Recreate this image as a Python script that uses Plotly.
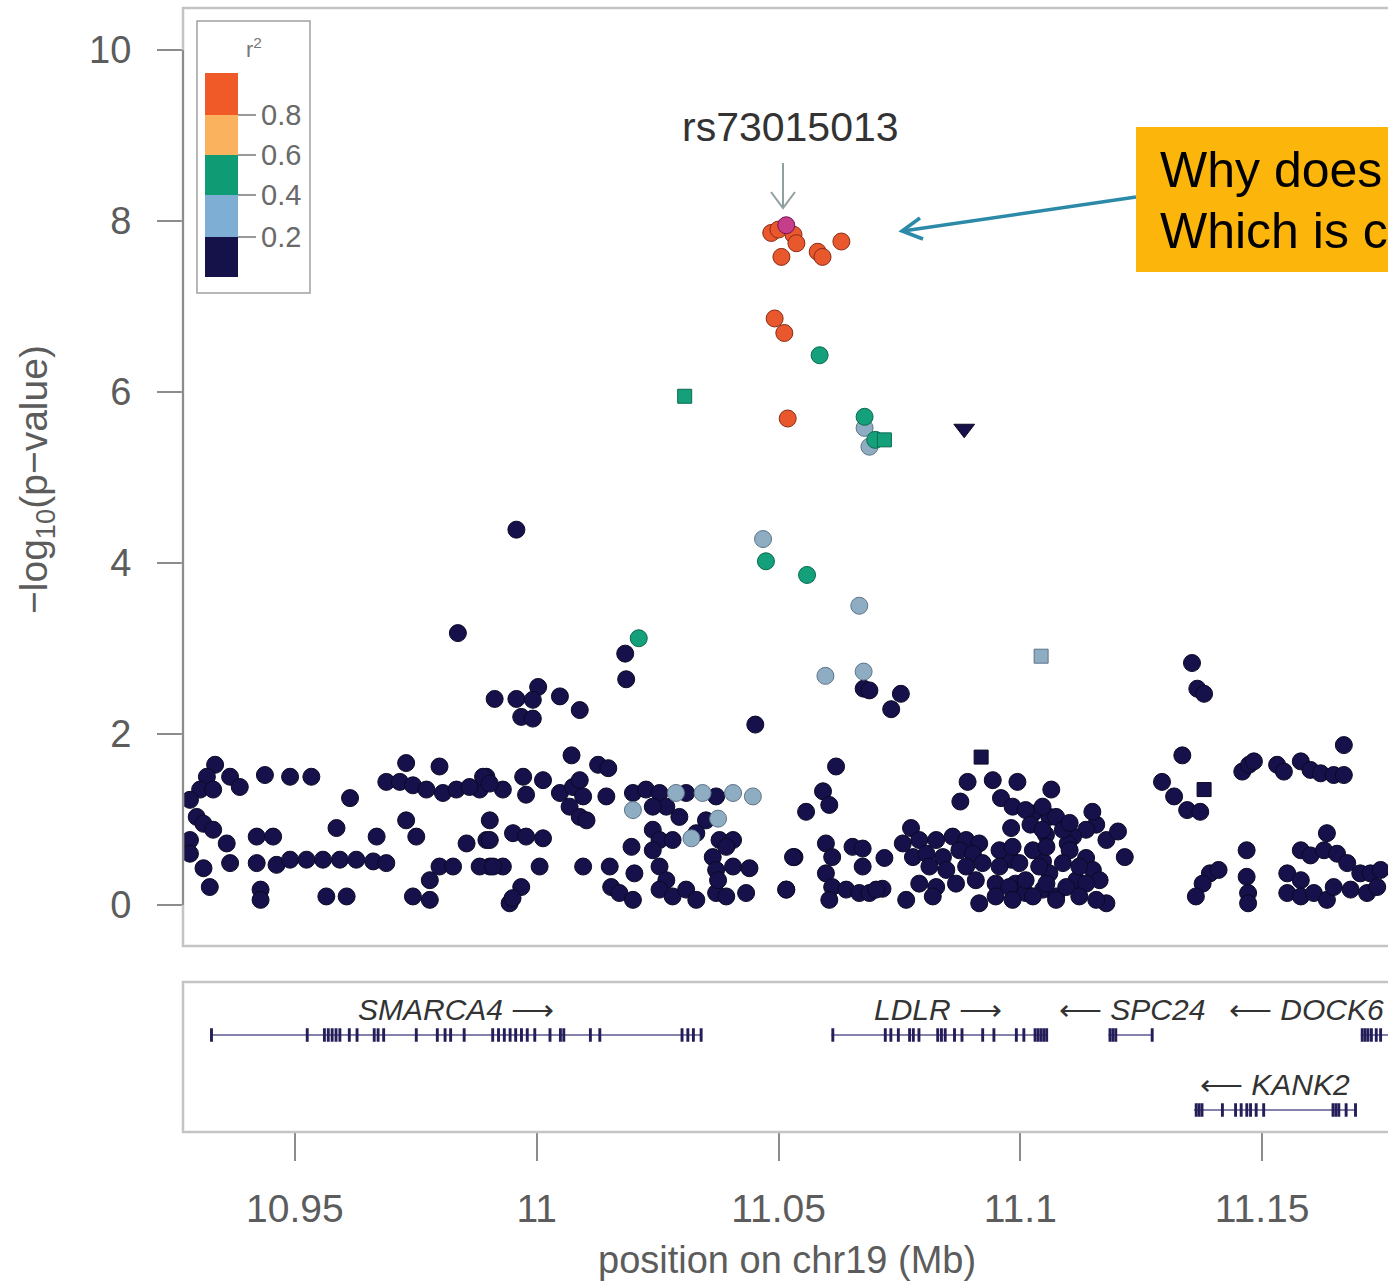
import plotly.graph_objects as go

# ---------------- data ----------------
# r2 < 0.2 (navy circles)
navy_pos = [10.9958,10.9837,11.0183,11.0185,10.9913,10.9958,11.0003,10.9992,10.9968,10.9992,11.0048,11.0089,11.0676,11.0688,11.0753,11.0733,11.0452,
    11.1355,11.1366,11.1380,11.1335,11.1293,11.1318,11.1345,11.1372,11.1459,11.1473,11.1483,11.1531,11.1545,11.1580,11.1600,11.1621,11.1648,11.1669,11.1669,
    11.1026,11.1060,11.0981,11.1053,11.1157,11.1136,11.1109,11.1098,11.1178,11.1202,11.1216,11.0981,11.1047,11.1060,11.1136,11.1150,11.1116,11.1164,11.0990,
    11.1011,11.1047,11.1074,11.1392,11.1410,11.1377,11.1363,11.1178,11.1468,11.1468,11.1471,11.1471,11.1634,11.1580,11.1600,11.1628,11.1655,11.1676,11.1703,
    11.1724,11.1745,11.1552,11.1580,11.1552,11.1580,11.1607,11.1634,11.1648,11.1683,11.1717,11.1738,
    11.0619,11.0592,11.0605,11.0557,11.0533,11.0516,11.0598,11.0611,11.0598,11.0611,11.0605,11.0653,11.0674,11.0674,11.0640,11.0667,11.0688,11.0719,11.0715,
    11.0891,11.0943,11.0994,11.1064,11.0876,11.0960,11.0984,11.1011,11.1046,11.1074,11.1149,11.1021,11.1046,11.1088,11.1102,11.0774,11.0791,11.0826,11.0860,
    11.0888,11.0915,11.0778,11.0806,11.0840,11.0874,11.0902,11.0957,11.0984,11.1026,11.1054,11.1102,11.0812,11.0847,11.0888,11.0922,11.0957,11.0998,11.1039,
    11.1088,11.1122,11.0791,11.0826,11.0867,11.0908,11.0949,11.0977,11.1011,11.1054,11.1095,11.1136,11.0764,11.0819,11.0915,11.0949,11.0984,11.1026,11.1074,
    11.1122,11.1157,11.0757,11.0702,
    11.0072,11.0127,11.0148,10.9896,10.9882,10.9972,11.0013,10.9930,10.9978,11.0048,11.0075,11.0089,11.0096,11.0068,11.0089,11.0103,11.0144,11.0199,11.0226,
    11.0254,11.0268,11.0240,11.0309,11.0371,11.0295,11.0350,11.0330,11.0240,11.0254,11.0281,11.0240,11.0378,11.0406,11.0392,11.0196,10.9903,10.9896,10.9951,
    10.9978,11.0013,10.9903,10.9930,11.0006,11.0096,11.0151,11.0202,11.0254,11.0268,11.0364,11.0371,11.0406,11.0440,10.9968,10.9944,11.0154,11.0171,11.0199,
    11.0254,11.0281,11.0309,11.0330,11.0371,11.0392,11.0433,11.0375,11.0530,11.0516,
    10.9335,10.9318,10.9304,10.9331,10.9283,10.9366,10.9386,10.9438,10.9490,10.9534,10.9614,10.9730,10.9799,10.9689,10.9717,10.9744,10.9772,10.9806,10.9834,
    10.9861,10.9889,10.9903,10.9297,10.9311,10.9331,10.9359,10.9283,10.9283,10.9366,10.9311,10.9324,10.9421,10.9455,10.9421,10.9462,10.9490,10.9524,10.9558,
    10.9593,10.9627,10.9662,10.9689,10.9429,10.9429,10.9586,10.9669,10.9565,10.9607,10.9730,10.9751,10.9799,10.9827,10.9779,10.9744,10.9779,10.9855,10.9903,
    10.9882,10.9910,10.9950]
navy_logp = [4.39,3.18,2.94,2.64,2.41,2.41,2.55,2.40,2.20,2.18,2.44,2.28,2.53,2.51,2.47,2.29,2.11,
    2.83,2.53,2.47,1.75,1.44,1.27,1.11,1.09,1.56,1.64,1.68,1.64,1.56,1.68,1.58,1.54,1.52,1.52,1.87,
    1.07,1.03,0.90,0.82,0.94,0.88,0.80,0.72,0.76,0.86,0.56,0.53,0.51,0.37,0.55,0.41,0.29,0.29,0.25,
    0.14,0.18,0.10,0.37,0.41,0.25,0.10,0.02,0.64,0.33,0.14,0.02,0.84,0.64,0.58,0.64,0.60,0.49,0.37,
    0.37,0.41,0.37,0.29,0.14,0.10,0.14,0.06,0.21,0.18,0.14,0.21,
    1.62,1.33,1.17,1.09,0.56,0.18,0.72,0.56,0.37,0.21,0.06,0.68,0.66,0.45,0.18,0.14,0.14,0.55,0.19,
    1.44,1.46,1.44,1.35,1.21,1.25,1.15,1.11,1.15,1.03,1.09,0.94,0.88,0.88,0.96,0.90,0.76,0.76,0.80,
    0.76,0.72,0.56,0.60,0.56,0.64,0.60,0.64,0.68,0.64,0.68,0.64,0.45,0.41,0.45,0.49,0.45,0.49,0.45,
    0.49,0.45,0.25,0.21,0.25,0.29,0.25,0.21,0.29,0.25,0.21,0.25,0.06,0.10,0.02,0.10,0.06,0.10,0.06,
    0.10,0.06,0.72,0.18,
    1.75,1.64,1.60,1.50,1.35,1.50,1.46,1.35,1.29,1.31,1.38,1.46,1.27,1.15,1.03,0.99,1.27,1.31,1.35,
    1.31,1.15,1.15,1.31,1.27,1.03,0.99,0.84,0.88,0.76,0.76,0.64,0.76,0.76,0.68,0.68,0.99,0.76,0.84,
    0.80,0.78,0.45,0.45,0.45,0.45,0.45,0.37,0.45,0.29,0.56,0.41,0.45,0.43,0.21,0.02,0.21,0.14,0.06,
    0.18,0.10,0.18,0.06,0.14,0.10,0.14,0.29,0.56,0.18,
    1.64,1.50,1.35,1.35,1.23,1.50,1.38,1.52,1.50,1.50,1.25,1.66,1.62,1.44,1.44,1.40,1.35,1.31,1.35,
    1.38,1.50,1.42,1.03,0.95,0.88,0.72,0.76,0.60,0.49,0.43,0.21,0.80,0.80,0.49,0.47,0.53,0.53,0.53,
    0.53,0.53,0.51,0.49,0.18,0.06,0.90,0.80,0.10,0.10,0.99,0.80,0.45,0.45,0.29,0.10,0.06,0.72,0.76,
    0.45,0.45,0.08]
navy_sq_pos = [11.0919, 11.1380]
navy_sq_logp = [1.73, 1.35]
navy_tri_pos = [11.0884]
navy_tri_logp = [5.57]

# 0.2 <= r2 < 0.4 (light blue)
blue_pos = [11.0199,11.0288,11.0343,11.0406,11.0447,11.0375,11.0320,11.0468,11.0667,11.0597,11.0676,11.0678,11.0688]
blue_logp = [1.11,1.31,1.31,1.31,1.27,1.01,0.78,4.28,3.50,2.68,2.73,5.58,5.36]
blue_sq_pos = [11.1043]
blue_sq_logp = [2.91]

# 0.4 <= r2 < 0.6 (green)
green_pos = [11.0585,11.0678,11.0700,11.0474,11.0559,11.0211]
green_logp = [6.43,5.71,5.44,4.02,3.86,3.12]
green_sq_pos = [11.0306,11.0719]
green_sq_logp = [5.95,5.44]

# r2 >= 0.8 (red)
red_pos = [11.0485,11.0500,11.0531,11.0537,11.0506,11.0581,11.0591,11.0630,11.0492,11.0512,11.0519]
red_logp = [7.86,7.90,7.84,7.74,7.58,7.64,7.58,7.76,6.86,6.69,5.69]

# index SNP
lead_name = "rs73015013"
lead_pos = [11.0516]
lead_logp = [7.95]

# legend bins
r2_breaks = ["0.8", "0.6", "0.4", "0.2"]
r2_colors = ["#ef5a28", "#fbb25f", "#0f9b74", "#7eaed3", "#15124a"]

# genes
gene_names = ["SMARCA4", "LDLR", "SPC24", "DOCK6", "KANK2"]
gene_strand = ["+", "+", "-", "-", "-"]
gene_start = [10.93245, 11.06093, 11.11824, 11.17040, 11.13590]
gene_end = [11.03400, 11.10548, 11.12737, 11.20000, 11.16920]
gene_row = [1, 1, 1, 1, 0]
gene_exons = [
    [10.93245,10.95225,10.95580,10.95660,10.95740,10.95820,10.95900,10.96095,10.96255,10.96610,10.96690,10.96805,
     10.97480,10.97915,10.98075,10.98190,10.98470,10.99060,10.99180,10.99300,10.99420,10.99535,10.99655,10.99775,
     10.99930,11.00245,11.00460,11.00530,11.01080,11.01275,11.02975,11.03095,11.03210,11.03370],
    [11.06093,11.07178,11.07293,11.07448,11.07680,11.07758,11.07874,11.08262,11.08339,11.08417,11.08609,11.08764,
     11.09192,11.09424,11.09888,11.10043,11.10275,11.10335,11.10395,11.10455,11.10515],
    [11.11824,11.11884,11.11944,11.12697],
    [11.17040,11.17100,11.17160,11.17230,11.17330,11.17420],
    [11.13607,11.13667,11.13727,11.14149,11.14421,11.14537,11.14653,11.14731,11.14847,11.15002,
     11.16436,11.16496,11.16556,11.16707,11.16901],
]
gene_label_x = [10.98326, 11.08306, 11.12314, 11.17570, 11.15269]

x_ticks = [10.95, 11.0, 11.05, 11.1, 11.15]
x_ticklabels = ["10.95", "11", "11.05", "11.1", "11.15"]
y_ticks = [0, 2, 4, 6, 8, 10]

# ---------------- figure ----------------
W, H = 1388, 1285
def px(x): return x / W
def py(y): return 1 - y / H

FONT = "Liberation Sans, Arial, Helvetica, sans-serif"
TICKC = "#5c5c5c"

fig = go.Figure()

def add_pts(xs, ys, color, lcolor, symbol="circle", size=17, xa="x", ya="y"):
    fig.add_trace(go.Scatter(x=xs, y=ys, mode="markers", xaxis=xa, yaxis=ya,
                             marker=dict(color=color, size=size, symbol=symbol,
                                         line=dict(color=lcolor, width=1)),
                             showlegend=False, hoverinfo="x+y"))

add_pts(navy_pos, navy_logp, "#16114a", "#0b0926")
add_pts(navy_sq_pos, navy_sq_logp, "#16114a", "#0b0926", "square", 14)
add_pts(navy_tri_pos, navy_tri_logp, "#16114a", "#0b0926", "triangle-down", 18)
add_pts(blue_pos, blue_logp, "#8eacc2", "#5d7488")
add_pts(blue_sq_pos, blue_sq_logp, "#8eacc2", "#5d7488", "square", 14)
add_pts(green_pos, green_logp, "#13a07a", "#0b6a50")
add_pts(green_sq_pos, green_sq_logp, "#13a07a", "#0b6a50", "square", 14)
add_pts(red_pos, red_logp, "#e9572d", "#8a2a14")
add_pts(lead_pos, lead_logp, "#c63d8c", "#7a1050")

# invisible trace on gene panel so axes appear
fig.add_trace(go.Scatter(x=[gene_start[0]], y=[1], xaxis="x2", yaxis="y2", mode="markers",
                         marker=dict(opacity=0), showlegend=False, hoverinfo="skip"))

shapes = []
annotations = []

# gene drawing
for i, name in enumerate(gene_names):
    r = gene_row[i]
    shapes.append(dict(type="line", xref="x2", yref="y2", x0=gene_start[i], x1=gene_end[i],
                       y0=r, y1=r, line=dict(color="#5b5790", width=1.5)))
    for e in gene_exons[i]:
        shapes.append(dict(type="rect", xref="x2", yref="y2", x0=e, x1=e + 0.0006,
                           y0=r - 0.09, y1=r + 0.09, fillcolor="#231e58", line=dict(width=0)))
    label = f"<i>{name}</i> \u27f6" if gene_strand[i] == "+" else f"\u27f5 <i>{name}</i>"
    annotations.append(dict(x=gene_label_x[i], y=r + 0.34, xref="x2", yref="y2", text=label,
                            showarrow=False, xanchor="right" if name == "DOCK6" else "center",
                            yanchor="middle", font=dict(family=FONT, size=30, color="#333333")))

# panel frames
shapes.append(dict(type="rect", xref="paper", yref="paper", x0=px(183), x1=px(1400),
                   y0=py(946), y1=py(8), line=dict(color="#c4c4c4", width=2.5)))
shapes.append(dict(type="rect", xref="paper", yref="paper", x0=px(183), x1=px(1400),
                   y0=py(1132), y1=py(982), line=dict(color="#c4c4c4", width=2.5)))
# R-style y axis line from 0 to 10
shapes.append(dict(type="line", xref="paper", yref="y", x0=px(183), x1=px(183), y0=0, y1=10,
                   line=dict(color="#8c8c8c", width=2)))

# legend (r2 colour key)
shapes.append(dict(type="rect", xref="paper", yref="paper", x0=px(197), x1=px(310),
                   y0=py(293), y1=py(21), line=dict(color="#a0a0a0", width=1.5), fillcolor="white"))
bounds = [73, 115, 155, 195, 237, 277]
for k, c in enumerate(r2_colors):
    shapes.append(dict(type="rect", xref="paper", yref="paper", x0=px(205), x1=px(238),
                       y0=py(bounds[k + 1]), y1=py(bounds[k]), fillcolor=c, line=dict(width=0)))
for k, lab in enumerate(r2_breaks):
    yb = bounds[k + 1]
    shapes.append(dict(type="line", xref="paper", yref="paper", x0=px(238), x1=px(256),
                       y0=py(yb), y1=py(yb), line=dict(color="#777777", width=1.5)))
    annotations.append(dict(x=px(259), y=py(yb), xref="paper", yref="paper", text=lab,
                            showarrow=False, xanchor="left", yanchor="middle",
                            font=dict(family=FONT, size=29, color="#6a6a6a")))
annotations.append(dict(x=px(254), y=py(48), xref="paper", yref="paper", text="r<sup>2</sup>",
                        showarrow=False, xanchor="center", yanchor="middle",
                        font=dict(family=FONT, size=22, color="#777777")))

# lead SNP label and arrow (drawn as shapes)
annotations.append(dict(x=px(791), y=py(127), xref="paper", yref="paper", text=lead_name,
                        showarrow=False, xanchor="center", yanchor="middle",
                        font=dict(family=FONT, size=41, color="#333333")))
shapes.append(dict(type="line", xref="paper", yref="paper", x0=px(783), x1=px(783),
                   y0=py(163), y1=py(208), line=dict(color="#8fa0a0", width=2)))
shapes.append(dict(type="path", xref="paper", yref="paper",
                   path=f"M {px(771)},{py(192)} L {px(783)},{py(208)} L {px(795)},{py(192)}",
                   line=dict(color="#8fa0a0", width=2)))

# orange callout box
shapes.append(dict(type="rect", xref="paper", yref="paper", x0=px(1136), x1=px(1420),
                   y0=py(272), y1=py(127), fillcolor="#fcb60b", line=dict(width=0)))
annotations.append(dict(x=px(1158), y=py(170), xref="paper", yref="paper", text="Why does",
                        showarrow=False, xanchor="left", yanchor="middle",
                        font=dict(family="Liberation Sans, Arial", size=50, color="black")))
annotations.append(dict(x=px(1158), y=py(231), xref="paper", yref="paper", text="Which is c",
                        showarrow=False, xanchor="left", yanchor="middle",
                        font=dict(family="Liberation Sans, Arial", size=50, color="black")))
shapes.append(dict(type="line", xref="paper", yref="paper", x0=px(1136), x1=px(903),
                   y0=py(197), y1=py(231), line=dict(color="#2c8aa9", width=3.5)))
shapes.append(dict(type="path", xref="paper", yref="paper",
                   path=f"M {px(923)},{py(239)} L {px(902)},{py(231)} L {px(920)},{py(218)}",
                   line=dict(color="#2c8aa9", width=3.5)))

# axis titles
annotations.append(dict(x=px(787), y=py(1260), xref="paper", yref="paper",
                        text="position on chr19 (Mb)", showarrow=False,
                        xanchor="center", yanchor="middle",
                        font=dict(family=FONT, size=38, color="#5c5c5c")))
annotations.append(dict(x=px(36), y=py(480), xref="paper", yref="paper",
                        text="\u2212log<sub>10</sub>(p\u2212value)", showarrow=False, textangle=-90,
                        xanchor="center", yanchor="middle",
                        font=dict(family=FONT, size=39, color="#5c5c5c")))

xrange = [10.92686, 11.17603]
fig.update_layout(
    width=W, height=H, autosize=False,
    margin=dict(l=0, r=0, t=0, b=0, pad=0),
    paper_bgcolor="white", plot_bgcolor="white",
    showlegend=False,
    xaxis=dict(domain=[px(183), 1.0], range=xrange, anchor="y", showgrid=False, zeroline=False,
               showticklabels=False, ticks="", showline=False, automargin=False),
    yaxis=dict(domain=[py(946), py(8)], range=[-0.4795, 10.491], anchor="x", showgrid=False,
               zeroline=False, showline=False, tickvals=y_ticks, ticks="outside", ticklen=25,
               tickwidth=2, tickcolor="#8c8c8c", ticklabelstandoff=18,
               tickfont=dict(family=FONT, size=38, color=TICKC), automargin=False),
    xaxis2=dict(domain=[px(183), 1.0], range=xrange, anchor="y2", matches="x", showgrid=False,
                zeroline=False, showline=False, tickvals=x_ticks, ticktext=x_ticklabels,
                ticks="outside", ticklen=28, tickwidth=2, tickcolor="#8c8c8c",
                ticklabelstandoff=14, tickfont=dict(family=FONT, size=39, color=TICKC),
                automargin=False),
    yaxis2=dict(domain=[py(1132), py(982)], range=[-0.2933, 1.7067], anchor="x2", showgrid=False,
                zeroline=False, showticklabels=False, ticks="", showline=False, automargin=False),
    shapes=shapes, annotations=annotations,
)

fig.write_html("out.html")
